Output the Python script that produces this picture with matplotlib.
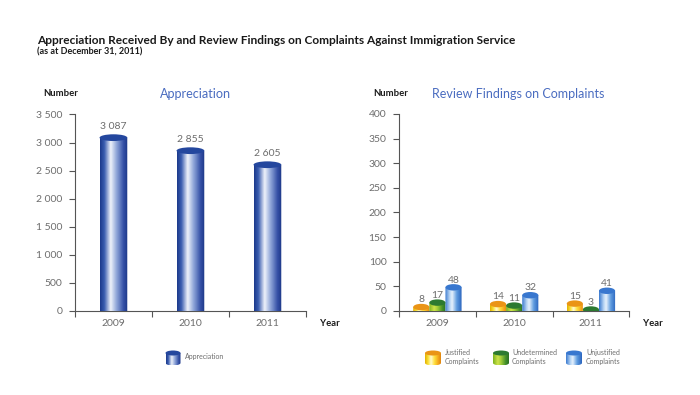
import numpy as np
import matplotlib
matplotlib.use('Agg')
import matplotlib.pyplot as plt
from matplotlib.colors import LinearSegmentedColormap
from matplotlib.patches import Ellipse, PathPatch
from matplotlib.path import Path

plt.rcParams['font.family'] = ['Lato', 'DejaVu Sans']

# data
years = ['2009', '2010', '2011']
appreciation = [3087, 2855, 2605]
justified = [8, 14, 15]
undetermined = [17, 11, 3]
unjustified = [48, 32, 41]

app_ticks = [0, 500, 1000, 1500, 2000, 2500, 3000, 3500]
rev_ticks = [0, 50, 100, 150, 200, 250, 300, 350, 400]

GRAY = '#6d6d6d'
TITLE_BLUE = '#4a6cc0'

# cylinder colour schemes: (gradient stops, top colour)
navy = (LinearSegmentedColormap.from_list('navy', [
    (0, '#1c3a8c'), (0.15, '#3a5db0'), (0.38, '#eef2fa'),
    (0.6, '#8ea5d8'), (0.85, '#3450a6'), (1, '#1d3786')]), '#24479e')
yellow = (LinearSegmentedColormap.from_list('yel', [
    (0, '#e3b000'), (0.2, '#fbe33c'), (0.38, '#fffbd2'),
    (0.6, '#ffdf3c'), (0.85, '#f2a41a'), (1, '#df8410')]), '#ea9416')
green = (LinearSegmentedColormap.from_list('grn', [
    (0, '#7bb31f'), (0.3, '#cfe34a'), (0.5, '#a2cd38'),
    (0.8, '#43902a'), (1, '#2b7024')]), '#2c7a31')
lblue = (LinearSegmentedColormap.from_list('lbl', [
    (0, '#3c7bd0'), (0.28, '#b9d6f4'), (0.42, '#e6f1fc'),
    (0.7, '#5f9ce0'), (1, '#2a64bd')]), '#3877cf')

grad = np.linspace(0, 1, 64).reshape(1, -1)


def cylinder(ax, x, w, base, h, scheme, eh, z=3):
    cmap, top = scheme
    x0, x1 = x - w / 2, x + w / 2
    t = np.linspace(np.pi, 2 * np.pi, 40)
    arc = np.column_stack([x + w / 2 * np.cos(t), base + eh / 2 * np.sin(t)])
    verts = np.vstack([[x0, base + h], arc, [x1, base + h], [x0, base + h]])
    codes = [Path.MOVETO] + [Path.LINETO] * (len(verts) - 2) + [Path.CLOSEPOLY]
    clip = PathPatch(Path(verts, codes), transform=ax.transData)
    im = ax.imshow(grad, extent=(x0, x1, base - eh / 2, base + h), aspect='auto',
                   cmap=cmap, zorder=z, interpolation='bilinear')
    im.set_clip_path(clip)
    ax.add_patch(Ellipse((x, base + h), w, eh, facecolor=top,
                         edgecolor='none', zorder=z + 1))


def style_axes(ax, ticks, ymax):
    for s in ['top', 'right']:
        ax.spines[s].set_visible(False)
    for s in ['left', 'bottom']:
        ax.spines[s].set_color('#555555')
        ax.spines[s].set_linewidth(0.8)
    ax.set_xlim(-0.5, 2.5)
    ax.set_ylim(0, ymax)
    ax.set_yticks(ticks)
    ax.set_yticklabels([f'{v:,}'.replace(',', ' ') for v in ticks])
    ax.set_xticks([0, 1, 2])
    ax.set_xticklabels(years)
    ax.set_xticks([-0.5, 0.5, 1.5, 2.5], minor=True)
    ax.tick_params(axis='x', which='major', length=0, pad=6, labelsize=7.5, labelcolor=GRAY)
    ax.tick_params(axis='x', which='minor', length=4, color='#555555', width=0.8)
    ax.tick_params(axis='y', length=4, color='#555555', width=0.8, labelsize=7.5,
                   labelcolor=GRAY, pad=5)


fig = plt.figure(figsize=(7, 3.95), dpi=100)

# left: appreciation
ax1 = fig.add_axes([0.107, 0.2127, 0.330, 0.4975])
style_axes(ax1, app_ticks, 3500)
for i, v in enumerate(appreciation):
    cylinder(ax1, i, 0.36, 0, v, navy, 120)
    ax1.annotate(f'{v:,}'.replace(',', ' '), (i, v), xytext=(0, 4.5),
                 textcoords='offset points', ha='center', va='bottom',
                 fontsize=7.5, color=GRAY)
ax1.set_xlim(-0.5, 2.5)
ax1.set_ylim(0, 3500)

# right: review findings
ax2 = fig.add_axes([0.570, 0.2127, 0.329, 0.4990])
style_axes(ax2, rev_ticks, 400)
bw = 0.21
for j, (vals, sch) in enumerate([(justified, yellow), (undetermined, green),
                                  (unjustified, lblue)]):
    for i, v in enumerate(vals):
        xc = i + (j - 1) * bw
        cylinder(ax2, xc, bw, 0, v, sch, 13)
        ax2.annotate(str(v), (xc, v), xytext=(0, 2), textcoords='offset points',
                     ha='center', va='bottom', fontsize=7.5, color=GRAY)
ax2.set_xlim(-0.5, 2.5)
ax2.set_ylim(0, 400)


def px(x, y, s, **kw):
    fig.text(x / 700, 1 - y / 395, s, **kw)


px(37, 40, 'Appreciation Received By and Review Findings on Complaints Against Immigration Service',
   fontsize=8.6, fontweight='bold', color='#1a1a1a', va='center')
px(37, 52, '(as at December 31, 2011)', fontsize=6.5, fontweight='bold',
   color='#1a1a1a', va='center')
px(43, 94, 'Number', fontsize=6.8, fontweight='bold', color='#1a1a1a', va='center')
px(373, 94, 'Number', fontsize=6.8, fontweight='bold', color='#1a1a1a', va='center')
px(160, 94, 'Appreciation', fontsize=9.1, color=TITLE_BLUE, va='center')
px(432, 94, 'Review Findings on Complaints', fontsize=9.0, color=TITLE_BLUE, va='center')
px(320, 323, 'Year', fontsize=6.8, fontweight='bold', color='#1a1a1a', va='center')
px(643, 323, 'Year', fontsize=6.8, fontweight='bold', color='#1a1a1a', va='center')

# legends
ov_legend = fig.add_axes([0, 0, 1, 1])
ov_legend.set_xlim(0, 700)
ov_legend.set_ylim(0, 395)
ov_legend.axis('off')
legend_items = [(173, 15, navy, 'Appreciation', 185),
                (433, 16, yellow, 'Justified\nComplaints', 445),
                (501, 16, green, 'Undetermined\nComplaints', 512),
                (574, 16, lblue, 'Unjustified\nComplaints', 586)]
for xc, w, sch, label, tx in legend_items:
    cylinder(ov_legend, xc, w, 395 - 363, 10, sch, 5)
    ov_legend.text(tx, 395 - 357, label, fontsize=5, color=GRAY, va='center',
                   linespacing=1.2)

fig.savefig('out.png', dpi=100)
